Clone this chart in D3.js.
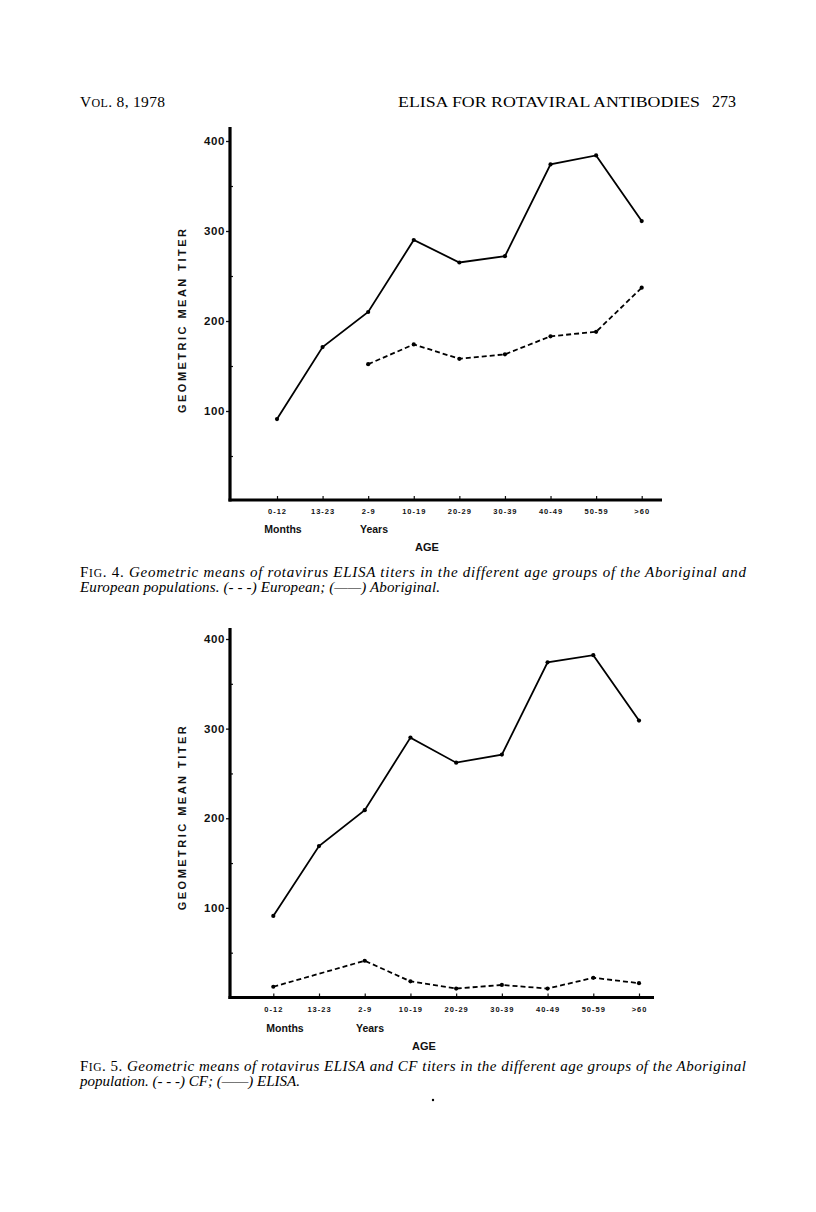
<!DOCTYPE html>
<html>
<head>
<meta charset="utf-8">
<script src="https://cdn.jsdelivr.net/npm/d3@7"></script>
<style>
  body { margin: 0; background: #fff; }
  svg { display: block; }
  .serif { font-family: "Liberation Serif", "DejaVu Serif", serif; }
  .sans { font-family: "Liberation Sans", Arial, sans-serif; font-weight: bold; }
</style>
</head>
<body>
<svg id="page" width="816" height="1212"></svg>
<script>
// age groups along the x axis
var ageGroups = ['0-12', '13-23', '2-9', '10-19', '20-29', '30-39', '40-49', '50-59', '>60'];
var yMajorTicks = [100, 200, 300, 400];
var yMinorTicks = [50, 150, 250, 350];

// Fig. 4: ELISA titers, Aboriginal vs European
var fig4Aboriginal = [91, 171, 210, 290, 265, 272, 374, 384, 311];
var fig4European = [null, null, 152, 174, 158, 163, 183, 188, 237];

// Fig. 5: Aboriginal population, ELISA vs CF
var fig5Elisa = [91, 169, 209, 290, 262, 271, 374, 382, 309];
var fig5CF = [12, null, 41, 18, 10, 14, 10, 22, 16];

var svg = d3.select('#page');

// running head
var head = svg.append('text').attr('class', 'serif').attr('x', 80).attr('y', 107)
    .attr('textLength', 85).attr('lengthAdjust', 'spacing')
    .style('font-size', '15.5px');
head.append('tspan').text('V');
head.append('tspan').style('font-size', '12px').text('OL');
head.append('tspan').text('. 8, 1978');
svg.append('text').attr('class', 'serif').attr('x', 398).attr('y', 107)
    .attr('textLength', 302).attr('lengthAdjust', 'spacingAndGlyphs')
    .style('font-size', '15.5px')
    .text('ELISA FOR ROTAVIRAL ANTIBODIES');
svg.append('text').attr('class', 'serif').attr('x', 736).attr('y', 107)
    .attr('text-anchor', 'end').style('font-size', '16px').text('273');

var drawFigure = function(cfg) {
    var g = svg.append('g');
    var x = d3.scalePoint().domain(ageGroups).range([cfg.x0, cfg.x1]);
    var y = d3.scaleLinear().domain([0, 400]).range([cfg.yBase, cfg.y400]);

    // major y ticks with labels
    var yAxis = g.append('g').attr('transform', 'translate(230,0)')
        .call(d3.axisLeft(y).tickValues(yMajorTicks).tickSize(4).tickPadding(1));
    yAxis.select('.domain').remove();
    yAxis.selectAll('text').attr('class', 'sans').style('font-size', '11.5px')
        .style('letter-spacing', '0.6px').attr('fill', '#111');
    yAxis.selectAll('line').attr('stroke', '#111').attr('stroke-width', 1.3);

    // minor y ticks (inside)
    var yMinor = g.append('g').attr('transform', 'translate(230,0)')
        .call(d3.axisRight(y).tickValues(yMinorTicks).tickSize(3).tickFormat(''));
    yMinor.select('.domain').remove();
    yMinor.selectAll('line').attr('stroke', '#111').attr('stroke-width', 1.2);

    // x ticks + labels
    var xAxis = g.append('g').attr('transform', 'translate(0,' + cfg.axisY + ')')
        .call(d3.axisBottom(x).tickSize(-4).tickPadding(9));
    xAxis.select('.domain').remove();
    xAxis.selectAll('line').attr('stroke', '#111').attr('stroke-width', 1.2);
    xAxis.selectAll('text').attr('class', 'sans').style('font-size', '7.5px')
        .style('font-weight', '900').style('letter-spacing', '1px').attr('fill', '#111');

    // thick axis lines
    g.append('line').attr('x1', 230).attr('x2', 230)
        .attr('y1', cfg.axisTop).attr('y2', cfg.axisY + 1.5)
        .attr('stroke', '#000').attr('stroke-width', 3.2);
    g.append('line').attr('x1', 228.5).attr('x2', cfg.axisEnd)
        .attr('y1', cfg.axisY).attr('y2', cfg.axisY)
        .attr('stroke', '#000').attr('stroke-width', 3.2);

    var series = [
        { values: cfg.solid, dash: null },
        { values: cfg.dashed, dash: '5,3' }
    ];
    var line = d3.line()
        .x(function(d) { return x(d.k); })
        .y(function(d) { return y(d.v); });

    series.forEach(function(s) {
        var pts = [];
        s.values.forEach(function(v, i) {
            if (v !== null) pts.push({ k: ageGroups[i], v: v });
        });
        g.append('path').datum(pts).attr('d', line)
            .attr('fill', 'none').attr('stroke', '#000')
            .attr('stroke-width', 1.8)
            .attr('stroke-dasharray', s.dash);
        g.selectAll(null).data(pts).enter().append('circle')
            .attr('cx', function(d) { return x(d.k); })
            .attr('cy', function(d) { return y(d.v); })
            .attr('r', 2.1).attr('fill', '#000');
    });

    // axis titles
    var yMid = y(200);
    g.append('text').attr('class', 'sans')
        .attr('transform', 'translate(185.5,' + yMid + ') rotate(-90)')
        .attr('x', -92).attr('textLength', 184).attr('lengthAdjust', 'spacing')
        .style('font-size', '11px').attr('fill', '#111')
        .text('GEOMETRIC MEAN TITER');
    g.append('text').attr('class', 'sans').attr('x', cfg.monthsX).attr('y', cfg.monthsY)
        .attr('text-anchor', 'middle').style('font-size', '10.5px').attr('fill', '#111').text('Months');
    g.append('text').attr('class', 'sans').attr('x', cfg.yearsX).attr('y', cfg.monthsY)
        .attr('text-anchor', 'middle').style('font-size', '10.5px').attr('fill', '#111').text('Years');
    g.append('text').attr('class', 'sans').attr('x', cfg.ageX).attr('y', cfg.ageY)
        .attr('text-anchor', 'middle').style('font-size', '11px').attr('fill', '#111').text('AGE');

    // caption
    var c1 = svg.append('text').attr('class', 'serif').attr('x', 80).attr('y', cfg.capY)
        .attr('textLength', 666).attr('lengthAdjust', 'spacing')
        .style('font-size', '15px');
    c1.append('tspan').text('F');
    c1.append('tspan').style('font-size', '11.5px').text('IG');
    c1.append('tspan').text('. ' + cfg.figNo + '. ');
    c1.append('tspan').style('font-style', 'italic').text(cfg.cap1);
    var c2 = svg.append('text').attr('class', 'serif').attr('x', 80).attr('y', cfg.capY + 15)
        .style('font-size', '15px').style('font-style', 'italic').text(cfg.cap2);
    if (cfg.cap2Len) c2.attr('textLength', cfg.cap2Len).attr('lengthAdjust', 'spacing');
};

drawFigure({
    solid: fig4Aboriginal, dashed: fig4European,
    x0: 277, x1: 641.7, yBase: 501, y400: 141,
    axisY: 500, axisTop: 127, axisEnd: 662,
    monthsX: 283, yearsX: 374, monthsY: 533, ageX: 427, ageY: 551,
    figNo: 4, capY: 577, cap2Len: 360,
    cap1: 'Geometric means of rotavirus ELISA titers in the different age groups of the Aboriginal and',
    cap2: 'European populations. (- - -) European; (\u2014\u2014) Aboriginal.'
});

drawFigure({
    solid: fig5Elisa, dashed: fig5CF,
    x0: 273.3, x1: 639, yBase: 997.5, y400: 639,
    axisY: 997.5, axisTop: 628, axisEnd: 654,
    monthsX: 285, yearsX: 370, monthsY: 1032, ageX: 424, ageY: 1050,
    figNo: 5, capY: 1071, cap2Len: null,
    cap1: 'Geometric means of rotavirus ELISA and CF titers in the different age groups of the Aboriginal',
    cap2: 'population. (- - -) CF; (\u2014\u2014) ELISA.'
});

// stray printer's dot below caption
svg.append('circle').attr('cx', 433).attr('cy', 1100).attr('r', 1.2).attr('fill', '#000');
</script>
</body>
</html>
